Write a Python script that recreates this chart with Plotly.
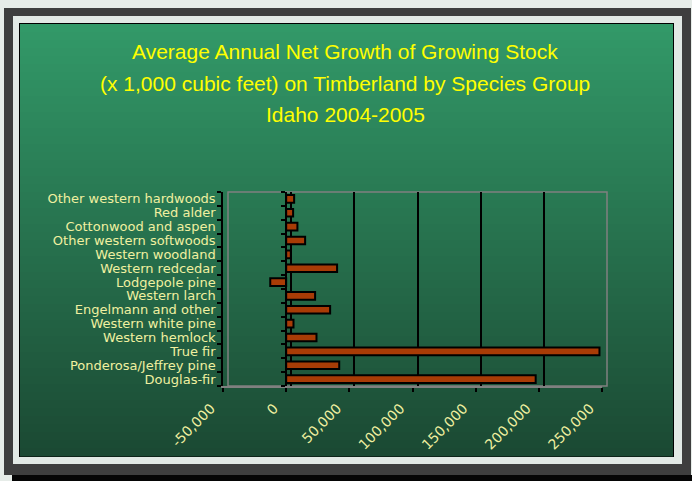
import plotly.graph_objects as go

# Average annual net growth of growing stock, Idaho 2004-2005 (thousand cubic feet)
species = [
    "Douglas-fir", "Ponderosa/Jeffrey pine", "True fir", "Western hemlock",
    "Western white pine", "Engelmann and other", "Western larch", "Lodgepole pine",
    "Western redcedar", "Western woodland", "Other western softwoods",
    "Cottonwood and aspen", "Red alder", "Other western hardwoods",
]
growth = [197500, 42000, 248000, 24000, 5800, 34800, 22900, -12600,
          40300, 3700, 15000, 8900, 5500, 6300]

x_ticks = [-50000, 0, 50000, 100000, 150000, 200000, 250000]
x_tick_labels = ["-50,000", "0", "50,000", "100,000", "150,000", "200,000", "250,000"]
grid_vals = [0, 50000, 100000, 150000, 200000]

title_lines = [
    "Average Annual Net Growth of Growing Stock",
    "(x 1,000 cubic feet) on Timberland by Species Group",
    "Idaho 2004-2005",
]

W_FIG, H_FIG = 692, 481
L, T = 223, 192            # plot area top-left (px)
PW, PH = 384, 194          # plot area size (px)
AXIS_W = 379               # main x-axis pixel length
x_lo, x_hi = -50000, 250000
grid_shift = 5 * (x_hi - x_lo) / AXIS_W   # gridline layer drawn 5px to the right

LABEL = "#F0F0A0"


def px(xp):
    return (xp - L) / PW


def py(yp):
    return (T + PH - yp) / PH


shapes = []


def rect(x0, y0, x1, y1, fill, line=None, lw=0):
    shapes.append(dict(
        type="rect", xref="paper", yref="paper", layer="below",
        x0=px(x0), x1=px(x1), y0=py(y1), y1=py(y0),
        fillcolor=fill, line=dict(width=lw, color=line or fill),
    ))


# picture frame
rect(4, 8, 691, 475, "#3E3E3E")
rect(12, 475, 692, 481, "#050505")
rect(13, 16, 682, 464, "#E2E9E5")
rect(19, 23, 674, 457, "#000000")

# vertical green gradient panel
top_c = (50, 153, 104)
bot_c = (27, 73, 51)
g_top, g_bot = 24, 456
n = 54
step = (g_bot - g_top) / n
for i in range(n):
    f = i / (n - 1)
    c = tuple(round(a + (b - a) * f) for a, b in zip(top_c, bot_c))
    rect(20, g_top + i * step, 673, g_top + (i + 1) * step + 0.6,
         "rgb(%d,%d,%d)" % c)

# plot box outline
shapes.append(dict(
    type="rect", xref="paper", yref="paper", layer="below",
    x0=px(228), x1=px(607), y0=py(386), y1=py(192),
    fillcolor="rgba(0,0,0,0)", line=dict(width=1.5, color="#808080"),
))

fig = go.Figure()

fig.add_trace(go.Bar(
    x=growth, y=species, orientation="h", width=0.55,
    marker=dict(color="#A83C06", line=dict(color="#000000", width=2)),
    xaxis="x", yaxis="y", hoverinfo="x+y",
))
# carriers for the gridline axis and the zero-line axis
fig.add_trace(go.Scatter(x=[None], y=[None], xaxis="x2", yaxis="y",
                         showlegend=False, hoverinfo="skip"))
fig.add_trace(go.Scatter(x=[None], y=[None], xaxis="x", yaxis="y2",
                         showlegend=False, hoverinfo="skip"))

zero_pos = (0 - x_lo) / (x_hi - x_lo) * AXIS_W / PW

annotations = []
for line, yp in zip(title_lines, [52, 83, 114]):
    annotations.append(dict(
        text=line, xref="paper", yref="paper", x=px(345), y=py(yp),
        xanchor="center", yanchor="middle", showarrow=False,
        font=dict(family="Liberation Sans", size=21, color="#FFFF00"),
    ))

cat_axis = dict(
    type="category", categoryorder="array", categoryarray=species,
    range=[-0.5, len(species) - 0.5],
    tickmode="linear", tick0=0, dtick=1,
    ticks="outside", tickson="boundaries", ticklen=4,
    tickcolor="#000000", tickwidth=1.5,
    showline=True, linecolor="#000000", linewidth=1.5,
    showgrid=False, zeroline=False, fixedrange=True,
)

fig.update_layout(
    width=W_FIG, height=H_FIG,
    margin=dict(l=L, r=W_FIG - L - PW, t=T, b=H_FIG - T - PH, pad=0),
    paper_bgcolor="#E6ECE8",
    plot_bgcolor="rgba(0,0,0,0)",
    showlegend=False,
    shapes=shapes,
    annotations=annotations,
    xaxis=dict(
        domain=[0, AXIS_W / PW], range=[x_lo, x_hi],
        tickvals=x_ticks, ticktext=x_tick_labels, tickangle=-45,
        ticks="outside", ticklen=4, tickcolor="#000000", tickwidth=1.5,
        ticklabelshift=-12, ticklabelstandoff=3,
        showline=True, linecolor="#808080", linewidth=1.5,
        showgrid=False, zeroline=False,
        tickfont=dict(family="DejaVu Sans", size=14, color=LABEL),
        fixedrange=True,
    ),
    xaxis2=dict(
        overlaying="x", anchor="y",
        range=[x_lo - grid_shift, x_hi - grid_shift],
        tickvals=grid_vals, showticklabels=False, ticks="",
        showgrid=True, gridcolor="#000000", gridwidth=1.5,
        showline=False, zeroline=False, fixedrange=True,
    ),
    yaxis=dict(
        **cat_axis,
        ticklabelstandoff=3,
        tickfont=dict(family="DejaVu Sans", size=13, color=LABEL),
    ),
    yaxis2=dict(
        **cat_axis,
        overlaying="y", anchor="free", position=zero_pos,
        showticklabels=False,
    ),
)

fig.write_html("out.html")
